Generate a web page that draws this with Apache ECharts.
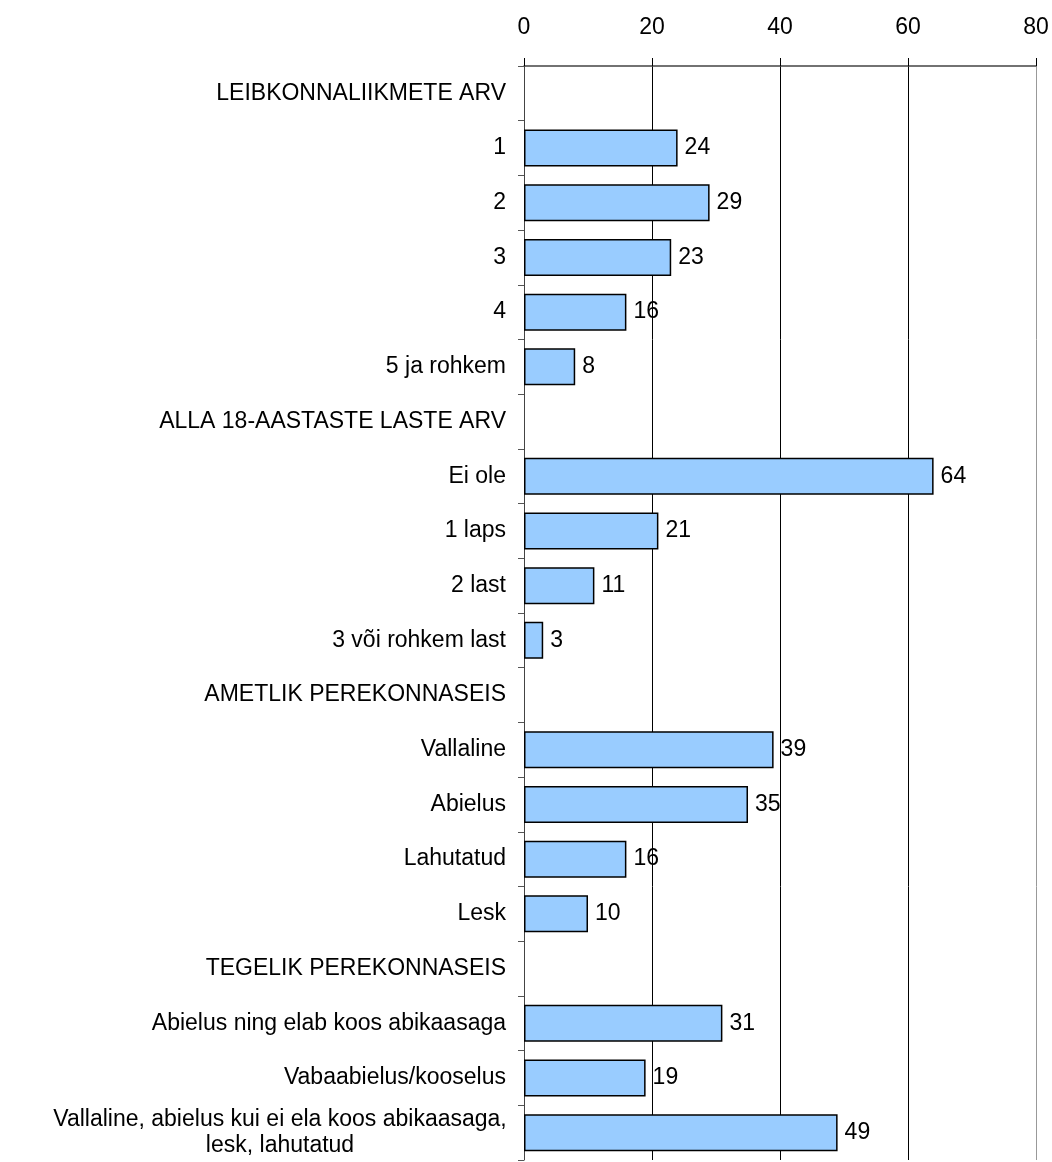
<!DOCTYPE html>
<html>
<head>
    <meta charset="utf-8">
    <script src="https://cdn.jsdelivr.net/npm/echarts@6/dist/echarts.min.js"></script>
</head>
<body style="margin:0">
    <div id="main" style="width:1052px;height:1162px;"></div>
    <script>
        var categories = [
            'LEIBKONNALIIKMETE ARV', '1', '2', '3', '4', '5 ja rohkem',
            'ALLA 18-AASTASTE LASTE ARV', 'Ei ole', '1 laps', '2 last', '3 või rohkem last',
            'AMETLIK PEREKONNASEIS', 'Vallaline', 'Abielus', 'Lahutatud', 'Lesk',
            'TEGELIK PEREKONNASEIS', 'Abielus ning elab koos abikaasaga', 'Vabaabielus/kooselus',
            'Vallaline, abielus kui ei ela koos abikaasaga,\nlesk, lahutatud'
        ];
        var values = [null, 24, 29, 23, 16, 8, null, 64, 21, 11, 3, null, 39, 35, 16, 10, null, 31, 19, 49];
        var ticks = [0, 20, 40, 60, 80];

        var myChart = echarts.init(document.getElementById('main'));
        var option = {
            animation: false,
            textStyle: { fontFamily: 'Liberation Sans, Arial, sans-serif' },
            grid: { left: 524, right: 16, top: 66, bottom: 2 },
            xAxis: {
                type: 'value',
                position: 'top',
                min: ticks[0],
                max: ticks[ticks.length - 1],
                interval: 20,
                axisLine: { show: true, lineStyle: { color: '#444', width: 1.5 } },
                axisTick: { show: true, length: 8, lineStyle: { color: '#000' } },
                axisLabel: { fontSize: 23, color: '#000', margin: 27 },
                splitLine: { show: true, lineStyle: { color: ['#000', '#000', '#000', '#000', '#999'], width: 1 } }
            },
            yAxis: {
                type: 'category',
                inverse: true,
                data: categories,
                axisLine: { show: true, lineStyle: { color: '#444', width: 1 } },
                axisTick: { show: true, length: 6, lineStyle: { color: '#555' } },
                axisLabel: {
                    fontSize: 23, color: '#000', margin: 18, lineHeight: 26, align: 'right',
                    formatter: function (v) {
                        if (v.indexOf('\n') < 0) return v;
                        // multi-line label: lines centred on each other
                        return v.split('\n').map(function (s) { return '{c|' + s + '}'; }).join('\n');
                    },
                    rich: { c: { width: 452, align: 'center', fontSize: 23, lineHeight: 26, color: '#000' } }
                }
            },
            series: [{
                type: 'bar',
                data: values,
                barWidth: 37,
                itemStyle: { color: '#99ccff', borderColor: '#000', borderWidth: 1.5 },
                label: { show: true, position: 'right', distance: 7, fontSize: 23, color: '#000' }
            }]
        };
        myChart.setOption(option);
    </script>
</body>
</html>
